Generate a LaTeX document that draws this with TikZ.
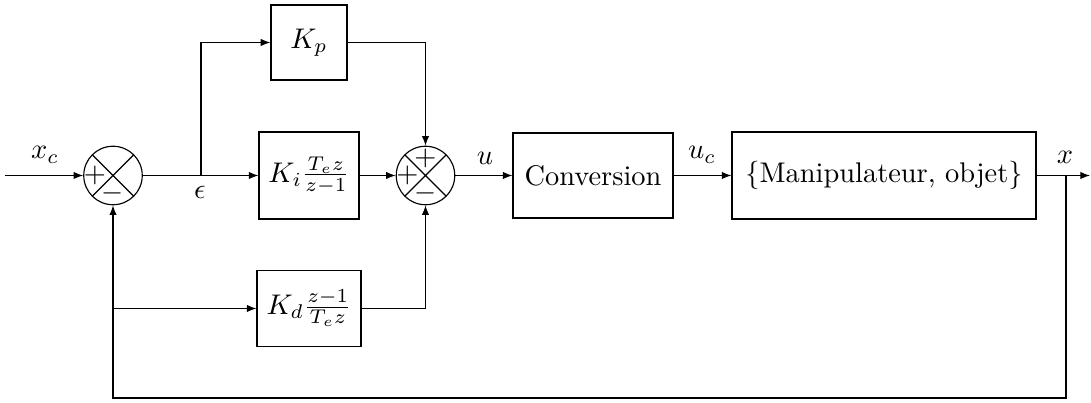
\documentclass[tikz,border=0pt]{standalone}
\usetikzlibrary{arrows.meta}
\begin{document}
\begin{tikzpicture}[x=0.3521pt,y=-0.3521pt,
  blk/.style={draw,inner sep=0pt},
  sumnode/.style={draw,circle,minimum size=20.6pt,inner sep=0pt,
    path picture={\draw (path picture bounding box.north west)--(path picture bounding box.south east)
      (path picture bounding box.north east)--(path picture bounding box.south west);}},
  sgn/.style={inner sep=0pt},
  arr/.style={-{Latex[length=3.4pt,width=2.6pt]}},
  lbl/.style={inner sep=0pt}]
\useasboundingbox (0,0) rectangle (1091,403);
% sums
\node[sumnode] (s1) at (113,175.5) {};
\node[sgn] (s1p) at (95,175.5) {$+$};
\node[sgn] (s1m) at (113,193) {$-$};
\node[sumnode] (s2) at (425.5,175.5) {};
\node[sgn] (s2l) at (407.5,175.5) {$+$};
\node[sgn] (s2t) at (425.5,158) {$+$};
\node[sgn] (s2m) at (425.5,193) {$-$};
% blocks
\node[blk,minimum width=26.8pt,minimum height=26.4pt] (kp) at (309,42.5) {$K_p$};
\node[blk,minimum width=35.2pt,minimum height=30.6pt] (ki) at (309,175.5) {$K_i\frac{T_e z}{z-1}$};
\node[blk,minimum width=36.6pt,minimum height=26.8pt] (kd) at (309,308.5) {$K_d\frac{z-1}{T_e z}$};
\node[blk,minimum width=56.3pt,minimum height=29.9pt] (conv) at (593,175.5) {Conversion};
\node[blk,minimum width=107pt,minimum height=30.6pt] (man) at (884,175.5) {\{Manipulateur, objet\}};
% coordinates
\coordinate (in) at (5,175.5);
\coordinate (b1) at (201,175.5);
\coordinate (out) at (1090,175.5);
\coordinate (b2) at (1066,175.5);
\coordinate (bot) at (1066,398);
\coordinate (b3) at (113,308.5);
% connectors
\draw[arr] (in) -- (s1.west);
\draw[arr] (s1.east) -- (ki.west);
\draw[arr] (b1) |- (kp.west);
\draw[arr] (kp.east) -| (s2.north);
\draw[arr] (ki.east) -- (s2.west);
\draw[arr] (kd.east) -| (s2.south);
\draw[arr] (s2.east) -- (conv.west);
\draw[arr] (conv.east) -- (man.west);
\draw[arr] (man.east) -- (out);
\draw[arr] (b2) -- (bot) -| (s1.south);
\draw[arr] (b3) -- (kd.west);
% labels
\node[lbl] (lxc) at (45,155) {$x_c$};
\node[lbl] (leps) at (200,192) {$\epsilon$};
\node[lbl] (lu) at (485,158) {$u$};
\node[lbl] (luc) at (702,155) {$u_c$};
\node[lbl] (lx) at (1065,157) {$x$};
\end{tikzpicture}
\end{document}
